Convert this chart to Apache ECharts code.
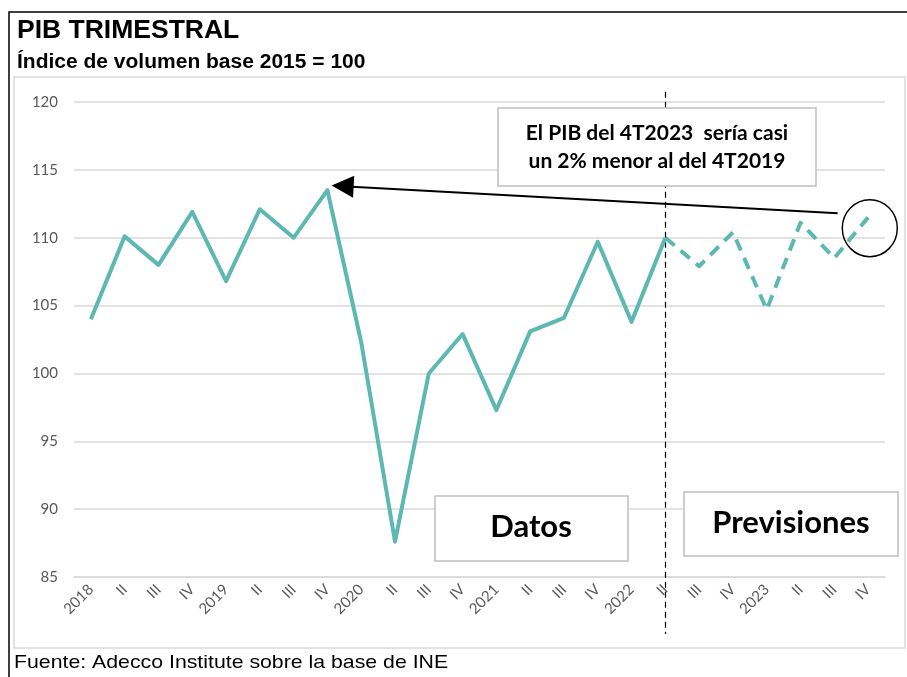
<!DOCTYPE html>
<html>
<head>
<meta charset="utf-8">
<script src="https://cdn.jsdelivr.net/npm/echarts@6/dist/echarts.min.js"></script>
<style>
  html, body { margin: 0; padding: 0; background: #fff; }
  #chart { width: 907px; height: 677px; }
</style>
</head>
<body>
<div id="chart"></div>
<script>
// trimestres 2018-2023
const quarters = ['2018', 'II', 'III', 'IV', '2019', 'II', 'III', 'IV', '2020', 'II', 'III', 'IV',
  '2021', 'II', 'III', 'IV', '2022', 'II', 'III', 'IV', '2023', 'II', 'III', 'IV']
// datos observados (2018 I .. 2022 II)
const actual = [104.0, 110.1, 108.0, 111.9, 106.8, 112.1, 110.0, 113.5, 102.3, 87.6, 100.0, 102.9,
  97.3, 103.1, 104.1, 109.7, 103.8, 110.0]
// previsiones (2022 II .. 2023 IV)
const forecast = [110.0, 107.9, 110.4, 104.7, 111.1, 108.5, 111.5]
const forecastStart = 17

// anotaciones en coordenadas de datos
const arrowFrom = [22.1, 111.8]
const arrowTo = [7.45, 113.8]
const circleAt = [23.05, 110.7]
const splitLine = [[17, 120.75], [17, 80.8]]

const teal = '#5cb8b1'
const solidData = quarters.map((q, i) => (i < actual.length ? actual[i] : null))
const dashedData = quarters.map((q, i) => (i >= forecastStart ? forecast[i - forecastStart] : null))

const chart = echarts.init(document.getElementById('chart'))

const box = (x, y, w, h) => ({
  type: 'rect',
  shape: { x, y, width: w, height: h },
  style: { fill: '#fff', stroke: '#bfbfbf', lineWidth: 1.5 },
  z: 10
})
const label = (x, y, text, size) => ({
  type: 'text',
  x, y,
  style: { text, fill: '#000', font: `bold ${size}px Lato`, textAlign: 'center', textVerticalAlign: 'middle', lineHeight: 28 },
  z: 11
})

chart.setOption({
  animation: false,
  grid: { left: 74, right: 22, top: 102, bottom: 100 },
  xAxis: [
    {
      type: 'category',
      data: quarters,
      boundaryGap: true,
      axisTick: { show: false },
      axisLine: { lineStyle: { color: '#d9d9d9', width: 1.5 } },
      axisLabel: { interval: 0, rotate: 45, margin: 10, color: '#595959', fontSize: 15, fontFamily: 'Lato' }
    },
    { type: 'value', min: -0.5, max: 23.5, show: false }
  ],
  yAxis: {
    type: 'value',
    min: 85,
    max: 120,
    interval: 5,
    axisLine: { show: false },
    axisTick: { show: false },
    axisLabel: { margin: 16, color: '#595959', fontSize: 15, fontFamily: 'Lato' },
    splitLine: { lineStyle: { color: '#d9d9d9', width: 1.5 } }
  },
  series: [
    {
      type: 'line', data: solidData, showSymbol: false, connectNulls: false,
      lineStyle: { color: teal, width: 4, join: 'round' }, z: 3
    },
    {
      type: 'line', data: dashedData, showSymbol: false,
      lineStyle: { color: teal, width: 4, type: [12, 8], join: 'round' }, z: 3
    },
    {
      type: 'lines', coordinateSystem: 'cartesian2d', xAxisIndex: 1, clip: false, z: 2,
      symbol: ['none', 'none'],
      lineStyle: { color: '#000', width: 1.2, type: [6, 4], opacity: 1 },
      data: [{ coords: splitLine }]
    },
    {
      type: 'lines', coordinateSystem: 'cartesian2d', xAxisIndex: 1, clip: false, z: 12,
      symbol: ['none', 'triangle'], symbolSize: [20, 22],
      lineStyle: { color: '#000', width: 2, opacity: 1 },
      itemStyle: { color: '#000' },
      data: [{ coords: [arrowFrom, arrowTo] }]
    },
    {
      type: 'scatter', xAxisIndex: 1, data: [circleAt], symbol: 'circle', symbolSize: [55, 57], z: 12,
      itemStyle: { color: 'rgba(0,0,0,0)', borderColor: '#000', borderWidth: 1.5, opacity: 1 },
      silent: true
    }
  ],
  graphic: [
    { type: 'rect', shape: { x: 9, y: 12, width: 920, height: 700 }, style: { fill: 'none', stroke: '#000', lineWidth: 1.5 }, silent: true },
    { type: 'rect', shape: { x: 14, y: 77, width: 891, height: 571 }, style: { fill: 'none', stroke: '#d9d9d9', lineWidth: 1.5 }, silent: true },
    { type: 'text', x: 17, y: 19, scaleX: 1.06, style: { text: 'PIB TRIMESTRAL', fill: '#000', font: 'bold 25px "Liberation Sans"' } },
    { type: 'text', x: 17, y: 52, scaleX: 1.05, style: { text: 'Índice de volumen base 2015 = 100', fill: '#000', font: 'bold 20px "Liberation Sans"' } },
    { type: 'text', x: 14, y: 653, scaleX: 1.12, style: { text: 'Fuente: Adecco Institute sobre la base de INE', fill: '#000', font: '19px "Liberation Sans"' } },
    box(498, 108, 318, 78),
    label(657, 147, 'El PIB del 4T2023  sería casi\nun 2% menor al del 4T2019', 21),
    box(435, 496, 193, 65),
    label(531, 527, 'Datos', 31),
    box(684, 492, 214, 64),
    label(791, 523, 'Previsiones', 31)
  ]
})
</script>
</body>
</html>
